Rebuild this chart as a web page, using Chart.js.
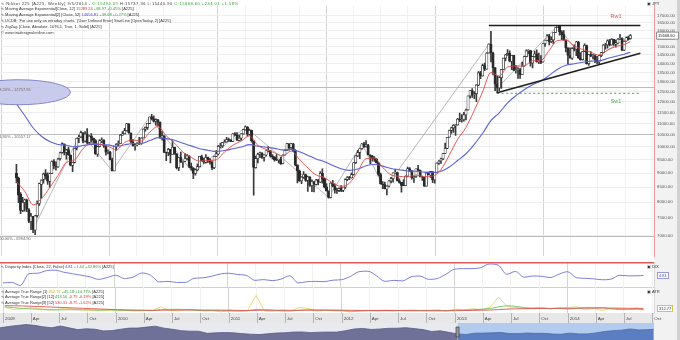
<!DOCTYPE html>
<html>
<head>
<meta charset="utf-8">
<title>Nikkei 225 weekly</title>
<script src="https://cdn.jsdelivr.net/npm/chart.js@4.4.1/dist/chart.umd.min.js"></script>
<style>
  html, body { margin: 0; padding: 0; background: #fff; }
  #wrap { position: relative; width: 680px; height: 340px; overflow: hidden; background: #fff; }
  #wrap canvas { position: absolute; left: 0; }
  .axisCol { position: absolute; left: 654px; top: 0; width: 26px; height: 340px; background: #f2f2f2; }
  .edge { position: absolute; left: 677px; top: 0; width: 3px; height: 340px; background: #d2d2d2; }
  .txt { position: absolute; white-space: nowrap; font-family: "Liberation Sans", Arial, sans-serif; font-size: 4px; line-height: 5.9px; color: #333; }
  .wide { letter-spacing: 0.52px; }
  .g { color: #2c9a2c; } .r { color: #e03030; } .b { color: #3c46c8; } .y { color: #c8a800; }
  .box { position: absolute; border: 1px solid #9a9ad8; background: #fff; font-family: "Liberation Sans", Arial, sans-serif; font-size: 4px; line-height: 5px; padding: 0 1px; }
</style>
</head>
<body>
<div id="wrap">
  <div class="axisCol"></div>
  <div class="edge"></div>
  <canvas id="main" width="680" height="262" style="top:0"></canvas>
  <canvas id="dix" width="680" height="25" style="top:262px"></canvas>
  <canvas id="atr" width="680" height="36" style="top:287px"></canvas>
  <canvas id="nav" width="680" height="17" style="top:323px"></canvas>

  <div class="txt" style="left:1px; top:0.5px">
    <div class="wide">∿ Nikkei 225 [A225, Weekly] 9/5/2014 - <span class="g">O:15494.09</span> H:15737.36 L:15440.90 <span class="g">C:15668.60 +244.01 +1.58%</span></div>
    <div>∿ Moving Average Exponential[Close, 12] <span class="r">15289.24</span> <span class="g">+68.97 +0.45%</span> [A225]</div>
    <div>∿ Moving Average Exponential[2] [Close, 52] <span class="b">14656.81</span> <span class="g">+39.68 +0.27%</span> [A225]</div>
    <div>∿ UCDB: 'For use only on intraday charts.' [User Defined Error] StartLine [OpenToday, 2] [A225]</div>
    <div>∿ ZigZag [Close, Absolute, 1076.1, True, 1, Solid] [A225]</div>
    <div>© www.tradesignalonline.com</div>
  </div>
  <div class="txt" style="left:647px; top:0.5px">▣ JPY</div>

  <div class="txt" style="left:1px; top:263.5px">∿ Disparity Index [Close, 22, False] <span class="b">4.81</span> <span class="g">+1.44 +42.86%</span> [A225]</div>
  <div class="txt" style="left:647px; top:263.5px">▣ DIX</div>
  <div class="box" style="left:657px; top:272px; color:#3c46c8">4.81</div>

  <div class="txt" style="left:1px; top:288.5px; line-height:5.6px">
    <div>∿ Average True Range [1] <span class="y">312.77</span> <span class="g">+45.18 +14.77%</span> [A225]</div>
    <div>∿ Average True Range[2] [12] <span class="g">413.50</span> <span class="r">-0.79 -0.19%</span> [A225]</div>
    <div>∿ Average True Range[3] [52] <span class="r">530.31</span> <span class="r">-8.75 -1.62%</span> [A225]</div>
  </div>
  <div class="txt" style="left:647px; top:288.5px">▣ ATR</div>
  <div class="box" style="left:657px; top:305px; border-color:#c9c84a; color:#333">312.77</div>
</div>

<script>
// weekly candles, index 0 = week ending 9 Jan 2009, last = week ending 5 Sep 2014
const weekOpen = [
  8992,8810,8260,7740,7990,8060,7760,7400,7560,7150,7580,7960,8600,8770,8980,8900,8700,8990,9440,9260,9230,9540,9780,10120,9780,9890,9670,9280,9400,9960,10360,10420,10590,10240,10540,10190,10450,10360,10260,9720,10020,10260,10270,10030,9800,9800,9500,9080,10020,10110,10140,10500,
  10550,10680,10980,10580,10200,10050,10090,10130,10130,10370,10750,10820,11000,11290,11200,11100,11160,11050,10360,10460,9780,9770,9900,9700,9990,9730,9200,9580,9400,9440,9540,9640,9250,9170,8990,9120,9240,9620,9470,9400,9590,9500,9420,9200,9630,9720,10020,10040,10180,10210,10300,10280,
  10230,10540,10500,10270,10360,10540,10720,10840,10520,10690,10250,9200,9540,9710,9760,9590,9680,9850,9860,9650,9600,9500,9490,9510,9350,9680,9870,10130,9970,10130,9830,9300,9080,8720,8850,8950,8740,8860,8560,8700,8600,8750,8680,8990,8800,8510,8370,8160,8640,8530,8400,8390,
  8460,8390,8500,8770,8840,8830,8950,9390,9650,9780,9930,10130,10010,10080,9690,9640,9560,9520,9380,8950,8610,8590,8440,8540,8720,8800,9010,9020,8720,8670,8570,8560,8890,9160,9070,8840,8870,9160,9110,8870,8860,8540,9000,8930,9050,8760,9020,9370,9450,9530,9740,9940,
  10400,10690,10800,10910,10930,11190,11150,11170,11380,11610,12290,12560,12340,12400,12830,13480,13320,13880,13690,14610,15140,14610,13770,12880,12690,13230,13680,14310,14510,14590,14130,14470,13620,13650,13660,13390,13860,14400,14740,14760,14020,14400,14560,14090,14200,14090,15170,15380,15660,15300,15400,15870,
  16180,16290,15910,15730,15390,14910,14460,14310,14860,14840,15270,14330,14220,14700,15060,14000,14520,14430,14460,14200,14100,14460,14630,15080,15100,15350,15100,15440,15160,15210,15460,15520,14780,15320,15540,15494
];
const weekHigh = [
  9325,8860,8320,8160,8100,8100,7800,7650,7560,7590,8050,8640,8760,9000,9130,9010,9000,9460,9500,9420,9560,9800,10170,10130,9900,10000,9690,9400,9950,10360,10480,10660,10600,10640,10770,10470,10550,10370,10300,10040,10300,10380,10300,10060,9880,9830,9560,10030,10140,10250,10520,10640,
  10780,11000,10990,10590,10300,10100,10180,10400,10380,10760,10850,11000,11290,11410,11340,11200,11180,11070,10640,10470,9800,9950,9900,10250,10000,9740,9600,9800,9450,9740,9700,9660,9370,9200,9160,9340,9630,9680,9560,9700,9600,9540,9430,9640,9860,10070,10160,10190,10290,10400,10370,10300,
  10550,10600,10600,10490,10550,10730,10890,10860,10750,10700,10250,9640,9760,9800,9780,9700,9860,10020,9870,9700,9620,9700,9520,9590,9690,9880,10140,10140,10150,10150,9890,9300,9110,8870,9050,8960,8890,8870,8760,8700,8780,8780,9050,9160,8820,8630,8380,8660,8740,8620,8470,8480,
  8560,8500,8790,8870,8880,9010,9390,9660,9870,9930,10140,10190,10260,10110,9690,9670,9620,9540,9380,9000,8700,8680,8550,8730,8850,9010,9140,9030,8790,8670,8770,8900,9220,9200,9100,8880,9160,9290,9110,8890,8860,9030,9040,9060,9050,9030,9380,9470,9560,9740,10160,10400,
  10700,10830,10950,10940,11230,11460,11400,11500,11650,12290,12570,12650,12510,12860,13550,13570,13970,14030,14640,15160,15940,14670,13770,13320,13280,13680,14320,14520,14810,14740,14470,14470,13900,13780,13730,14080,14430,14800,14820,14770,14410,14730,14800,14600,14460,15170,15390,15730,15750,15600,15870,16180,
  16320,16320,16000,16000,15400,14940,14920,14930,15100,15310,15310,14630,14700,15160,15090,14520,14690,14530,14500,14420,14490,14650,15110,15190,15410,15440,15490,15440,15390,15480,15760,15530,15340,15600,15640,15737
];
const weekLow = [
  8650,7990,7640,7700,7720,7700,7370,7160,7080,7020,7530,7900,8140,8640,8780,8600,8490,8980,9150,9110,9210,9480,9750,9680,9520,9660,9260,9050,9380,9880,10170,10380,10160,10200,10130,10100,10200,10130,9700,9630,10000,10170,9980,9670,9720,9490,9080,9080,9860,10050,10130,10480,
  10540,10660,10560,10190,10030,9870,10040,10100,10100,10370,10660,10730,10990,11150,11060,10920,10900,10360,10280,9770,9460,9650,9380,9700,9700,9150,9090,9400,9210,9420,9490,9200,9110,8800,8920,9080,9230,9450,9360,9370,9390,9330,9120,9160,9620,9680,9960,9980,10160,10200,10230,10220,
  10220,10470,10270,10250,10270,10530,10700,10450,10490,10200,8230,9180,9380,9580,9550,9440,9640,9800,9600,9530,9440,9460,9380,9320,9340,9670,9860,9870,9940,9820,9260,8650,8700,8620,8810,8700,8360,8530,8350,8340,8580,8580,8670,8640,8480,8370,8130,8140,8510,8300,8290,8350,
  8350,8350,8460,8730,8760,8820,8920,9350,9620,9540,9900,9980,9990,9680,9350,9440,9430,9370,8900,8610,8450,8440,8240,8510,8650,8680,8990,8720,8640,8330,8550,8550,8880,9050,8780,8670,8840,9080,8860,8740,8530,8540,8930,8840,8660,8640,9020,9320,9360,9500,9740,9930,
  10400,10560,10600,10480,10920,11070,11050,11100,11150,11600,12170,12210,12150,12000,12810,13170,13310,13600,13690,14600,14100,13370,12550,12420,12550,12670,13680,14150,14470,14100,13660,13600,13470,13190,13190,13390,13860,14400,14550,13850,13750,14370,14080,14000,14000,14080,15000,15370,15100,15230,15150,15870,
  16180,15700,15420,15390,14680,13990,14310,14230,14730,14460,14300,14200,14200,14690,13960,13890,14400,14280,14050,14000,13960,14400,14630,14830,14890,15030,15080,15060,14960,15150,15420,14750,14750,15320,15380,15441
];
const weekClose = [
  8836,8230,7745,7994,8076,7779,7416,7568,7173,7569,7945,8627,8749,8964,8907,8707,8977,9432,9265,9225,9523,9768,10135,9786,9877,9680,9288,9395,9944,10357,10412,10597,10238,10534,10187,10444,10370,10265,9731,10016,10257,10282,10035,9789,9804,9497,9081,10022,10107,10142,10494,10546,
  10682,10982,10590,10198,10057,10092,10123,10126,10368,10751,10824,10996,11286,11204,11102,11165,11057,10364,10462,9784,9762,9901,9705,9995,9737,9203,9585,9408,9431,9537,9642,9253,9179,8991,9114,9239,9626,9471,9404,9588,9500,9426,9202,9625,9724,10022,10039,10178,10211,10303,10279,10228,
  10541,10499,10274,10360,10543,10725,10842,10526,10693,10254,9206,9536,9708,9768,9591,9682,9849,9859,9648,9607,9504,9492,9514,9351,9678,9868,10137,9974,10132,9833,9300,9086,8719,8851,8950,8737,8864,8560,8700,8605,8748,8678,8988,8801,8514,8375,8160,8643,8536,8401,8395,8455,
  8390,8500,8766,8841,8831,8947,9384,9647,9777,9929,10129,10011,10083,9688,9637,9561,9520,9380,8953,8611,8593,8440,8536,8721,8798,9006,9020,8724,8669,8566,8555,8891,9162,9070,8839,8871,9159,9110,8870,8863,8534,9002,8933,9051,8757,9024,9367,9446,9527,9737,9940,10395,
  10688,10801,10913,10926,11191,11153,11173,11385,11606,12283,12560,12338,12397,12833,13485,13316,13884,13694,14607,15138,14612,13774,12877,12686,13230,13677,14309,14506,14589,14129,14466,13615,13650,13660,13389,13860,14404,14742,14760,14024,14404,14561,14088,14201,14086,15165,15381,15661,15299,15403,15870,16178,
  16291,15912,15734,15391,14915,14462,14313,14866,14841,15274,14327,14224,14696,15063,14000,14516,14429,14458,14199,14097,14462,14632,15077,15097,15349,15095,15437,15164,15215,15457,15523,14778,15318,15539,15425,15668.6
];

// indicators read every 4th week (last one = final week)
const ema12 = [8700,8363,7918,8109,8488,8916,9391,9492,9931,10150,10114,10031,9887,10186,10286,10242,10611,10860,10461,10153,9794,9589,9441,9468,9495,9803,10071,10243,10460,10067,9903,9770,9647,9839,9508,9187,8932,8833,8646,8531,8641,9058,9538,9563,9206,8936,8883,8861,8926,8868,8894,9128,9679,10313,10824,11590,12492,13507,13313,13808,13861,13874,14153,14179,14768,15367,15391,15033,14821,14653,14483,14775,14997,15118,15289];
const ema52 = [11900,11351,10805,10441,10222,10101,10072,10002,10059,10105,10100,10083,10025,10087,10139,10144,10260,10383,10342,10271,10149,10044,9931,9869,9816,9858,9926,9995,10094,10035,9991,9943,9882,9903,9809,9674,9530,9419,9279,9157,9098,9146,9271,9318,9257,9168,9124,9078,9065,9034,9020,9065,9224,9468,9730,10106,10568,11124,11480,11950,12300,12600,12850,13050,13350,13680,13900,13990,14074,14135,14159,14284,14417,14537,14657];
const disparity = [-10,-9,-15,8,9,14,15,11,8,5,2,-3,0.5,5,-1.5,1.5,9.5,5,-8,-7,-9,-9,-1,0,3,7.5,9,6.5,5,-5,-3.5,-5.5,-2.7,4,-10,-7.7,-7,-7.5,-4.6,-3.6,2.7,12,13,4,-7,-5,-6,2,3.5,-3,-1.4,7,17,18,18,20,27,25,7,12.6,1,3.6,3,0.6,7,12,0.4,-1,-2,-3.8,-2.6,5,3.9,3.9,4.8];
const atr1 = [675,400,500,620,510,350,380,570,440,350,300,340,280,240,270,280,300,280,700,300,240,400,400,210,240,130,330,200,260,2020,220,180,350,210,650,530,200,340,230,210,120,250,270,190,250,200,340,340,320,330,390,200,470,310,500,360,660,1840,730,640,530,570,660,460,650,620,720,370,500,290,530,520,430,590,313];
const atr12 = [700,620,520,480,430,380,360,380,370,360,360,320,380,330,300,260,280,270,380,420,430,380,320,280,290,250,230,230,250,410,380,320,230,240,320,370,350,330,330,280,200,230,270,290,320,310,260,260,270,260,250,260,330,350,380,440,520,700,830,760,620,560,560,500,520,460,520,620,600,620,460,400,400,420,413.5];
const atr52 = [850,840,810,780,740,700,660,620,580,540,500,460,420,390,360,340,320,310,320,330,340,345,345,340,335,330,320,300,290,310,320,320,315,310,310,320,320,320,320,320,310,300,295,290,285,280,275,270,265,262,262,262,270,285,300,320,345,390,450,480,500,510,520,530,540,545,550,560,570,575,565,555,545,540,530];

// zigzag pivots (week index, close)
const zigWeeks = [8,31,46,64,85,110,150,166,177,227,231,260,274,295];
const zigValues = [7173,10597,9081,11286,8991,10842,8160,10129,8440,15138,12686,16291,14000,15668.6];

// drawings
const fibLevels = [12757.95, 10557.17, 6994.90];
const fibNames = ['38.20%', '61.80%', '100.00%'];
const resistanceLevel = 16320, resistanceStart = 227;
const supportLevel = 12415, supportStart = 231;
const trendWeeks = [231, 299.8];
const trendValues = [12445, 14590];
const priceTicks = [7000,7500,8000,8500,9000,9500,10000,10500,11000,11500,12000,12500,13000,13500,14000,14500,15000,15500,16000,16500,17000];

// navigator: quarter-end closes from Q3 1995
const navValues = [17913,19868,21406,22666,21556,19361,18003,20605,17888,15258,16527,15830,13406,13842,15836,17529,17605,18934,20337,17411,15747,13785,12999,12969,9774,10542,11024,10621,9383,8578,7972,9083,10219,10676,11715,11858,10823,11488,11668,11584,13574,16111,17059,15505,16127,17225,17287,18138,16785,15307,12525,13481,11259,8859,8109,9958,10133,10546,11089,9382,9369,10228,9755,9816,8700,8455,10083,9006,8870,10395,12397,13677,14455,16291,14827,15162,15669];

const FONT = '"Liberation Sans", Arial, sans-serif';
const X_MIN = -1.34, X_MAX = 299.8;
const lastWeek = weekClose.length - 1;
const sampleWeek = k => Math.min(k * 4, lastWeek);
const navYear = k => Math.min(1995.75 + 0.25 * k, 2014.68);
const NAV_SPLIT = 2009.0;

const weekOf = (y, m, d) => (Date.UTC(y, m, d) - Date.UTC(2009, 0, 7)) / (7 * 864e5);
const monthNames = ['', '', '', 'Apr', '', '', 'Jul', '', '', 'Oct'];
const quarterTicks = [];
for (let yr = 2009; yr <= 2014; yr++) {
  for (let m = 0; m < 12; m += 3) {
    const v = weekOf(yr, m, 1);
    if (v >= X_MIN && v <= X_MAX) quarterTicks.push({ value: v, label: m === 0 ? String(yr) : monthNames[m], year: m === 0 });
  }
}

function weekAxis(showLabels) {
  return {
    type: 'linear', min: X_MIN, max: X_MAX,
    afterBuildTicks: s => { s.ticks = quarterTicks.map(t => ({ value: t.value })); },
    afterFit: s => { s.height = showLabels ? 10 : 0; },
    ticks: {
      display: showLabels, autoSkip: false, maxRotation: 0, align: 'start', padding: 3, labelOffset: 2,
      font: { size: 4.4, family: FONT }, color: '#444',
      callback: (v, i) => quarterTicks[i] ? quarterTicks[i].label : ''
    },
    grid: { drawTicks: false, color: c => (quarterTicks[c.index] && quarterTicks[c.index].year) ? '#d4d4d4' : '#f2f2f2' },
    border: { display: false }
  };
}

function hiddenRight(min, max) {
  return {
    position: 'right', min: min, max: max,
    afterFit: s => { s.width = 26; },
    ticks: { display: false }, grid: { display: false },
    border: { color: '#d6d6d6' }
  };
}

const common = {
  responsive: false, animation: false, devicePixelRatio: 1,
  layout: { padding: 0 },
  plugins: { legend: { display: false }, tooltip: { enabled: false } }
};

const mainOverlay = {
  id: 'mainOverlay',
  beforeDatasetsDraw(chart) {
    const { ctx, chartArea: a, scales: { y } } = chart;
    ctx.save();
    ctx.strokeStyle = '#bcbcbc';
    ctx.lineWidth = 1;
    fibLevels.forEach(lv => {
      const py = Math.round(y.getPixelForValue(lv)) + 0.5;
      ctx.beginPath(); ctx.moveTo(a.left, py); ctx.lineTo(a.right, py); ctx.stroke();
    });
    ctx.restore();
  },
  afterDatasetsDraw(chart) {
    const { ctx, chartArea: a, scales: { x, y } } = chart;
    ctx.save();
    // ellipse drawn round the 38.2% label
    ctx.beginPath();
    ctx.ellipse(x.getPixelForValue(1), y.getPixelForValue(12470), 52, 12.5, 0, 0, Math.PI * 2);
    ctx.fillStyle = 'rgba(198,200,236,0.95)';
    ctx.fill();
    ctx.strokeStyle = '#8288c9';
    ctx.lineWidth = 1;
    ctx.stroke();

    ctx.font = '4px ' + FONT;
    ctx.fillStyle = '#666';
    ctx.textBaseline = 'top';
    fibLevels.forEach((lv, k) => ctx.fillText(fibNames[k] + ' - ' + lv.toFixed(2), a.left - 3, y.getPixelForValue(lv) + 1.5));

    ctx.font = '5.5px ' + FONT;
    ctx.textBaseline = 'middle';
    ctx.fillStyle = '#e05555';
    ctx.fillText('Rw1', x.getPixelForValue(285.5), y.getPixelForValue(resistanceLevel) - 9);
    ctx.fillStyle = '#4cb04c';
    ctx.fillText('Sw1', x.getPixelForValue(285.5), y.getPixelForValue(supportLevel) + 8.5);
    ctx.restore();
  },
  afterDraw(chart) {
    const { ctx, chartArea: a, scales: { y } } = chart;
    const last = weekClose[lastWeek];
    const py = y.getPixelForValue(last);
    ctx.save();
    ctx.fillStyle = '#fff';
    ctx.strokeStyle = '#777';
    ctx.lineWidth = 0.8;
    ctx.beginPath(); ctx.rect(a.right + 2.5, py - 3.5, 22, 7); ctx.fill(); ctx.stroke();
    ctx.fillStyle = '#222';
    ctx.font = '4px ' + FONT;
    ctx.textBaseline = 'middle';
    ctx.fillText(last.toFixed(2), a.right + 4, py + 0.3);
    ctx.restore();
  }
};

new Chart(document.getElementById('main'), {
  type: 'bar',
  data: {
    datasets: [
      { type: 'line', label: 'ZigZag', data: zigWeeks.map((w, k) => ({ x: w, y: zigValues[k] })), borderColor: '#a4a4a4', borderWidth: 0.8, pointRadius: 0, order: 7 },
      { label: 'wick', data: weekClose.map((c, i) => ({ x: i, y: [weekLow[i], weekHigh[i]] })), backgroundColor: '#3a3a3a', barThickness: 1, grouped: false, order: 6 },
      { label: 'body', data: weekClose.map((c, i) => ({ x: i, y: [weekOpen[i], c] })),
        backgroundColor: weekClose.map((c, i) => c >= weekOpen[i] ? '#ffffff' : '#2a2a2a'),
        borderColor: '#2a2a2a', borderWidth: 0.7, borderSkipped: false, barThickness: 2.4, grouped: false, order: 5 },
      { type: 'line', label: 'EMA52', data: ema52.map((v, k) => ({ x: sampleWeek(k), y: v })), borderColor: '#5b62d9', borderWidth: 1.1, pointRadius: 0, cubicInterpolationMode: 'monotone', order: 4 },
      { type: 'line', label: 'EMA12', data: ema12.map((v, k) => ({ x: sampleWeek(k), y: v })), borderColor: '#e04848', borderWidth: 0.9, pointRadius: 0, cubicInterpolationMode: 'monotone', order: 3 },
      { type: 'line', label: 'Sw1', data: [{ x: supportStart, y: supportLevel }, { x: X_MAX, y: supportLevel }], borderColor: '#5cbf5c', borderWidth: 1.3, borderDash: [2, 2.5], pointRadius: 0, order: 2 },
      { type: 'line', label: 'Rw1', data: [{ x: resistanceStart, y: resistanceLevel }, { x: X_MAX, y: resistanceLevel }], borderColor: '#1e1e1e', borderWidth: 1.6, pointRadius: 0, order: 1 },
      { type: 'line', label: 'Trend', data: trendWeeks.map((w, k) => ({ x: w, y: trendValues[k] })), borderColor: '#1e1e1e', borderWidth: 1.6, pointRadius: 0, order: 1 }
    ]
  },
  options: Object.assign({}, common, {
    scales: {
      x: weekAxis(false),
      y: {
        type: 'logarithmic', position: 'right', min: 6430, max: 17690,
        afterBuildTicks: s => { s.ticks = priceTicks.map(v => ({ value: v })); },
        afterFit: s => { s.width = 26; },
        ticks: { font: { size: 4.3, family: FONT }, color: '#555', padding: 3, callback: v => Number(v).toFixed(2) },
        grid: { color: '#eeeeee', drawTicks: false },
        border: { color: '#eb9a9a' }
      }
    }
  }),
  plugins: [mainOverlay]
});

const dixFrame = {
  id: 'dixFrame',
  afterDraw(chart) {
    const { ctx, chartArea: a } = chart;
    ctx.save();
    ctx.strokeStyle = '#e05a5a';
    ctx.lineWidth = 1.5;
    ctx.beginPath(); ctx.moveTo(0, 0.75); ctx.lineTo(a.right, 0.75); ctx.stroke();
    ctx.restore();
  }
};

new Chart(document.getElementById('dix'), {
  type: 'line',
  data: { datasets: [{ data: disparity.map((v, k) => ({ x: sampleWeek(k), y: v })), borderColor: '#6e72d6', borderWidth: 0.9, pointRadius: 0, cubicInterpolationMode: 'monotone' }] },
  options: Object.assign({}, common, { scales: { x: weekAxis(false), y: hiddenRight(-18, 31) } }),
  plugins: [dixFrame]
});

const atrBand = {
  id: 'atrBand',
  beforeDraw(chart) {
    const { ctx, chartArea: a } = chart;
    ctx.save();
    ctx.fillStyle = '#e8e8e8';
    ctx.fillRect(0, a.bottom, a.right, chart.height - a.bottom);
    ctx.strokeStyle = '#d0d0d0';
    ctx.lineWidth = 1;
    ctx.beginPath(); ctx.moveTo(0, a.top + 0.5); ctx.lineTo(a.right, a.top + 0.5); ctx.stroke();
    ctx.restore();
  },
  afterDraw(chart) {
    const { ctx, chartArea: a, scales: { x } } = chart;
    ctx.save();
    ctx.strokeStyle = '#b4b4b4';
    ctx.lineWidth = 1;
    quarterTicks.forEach(t => {
      const px = Math.round(x.getPixelForValue(t.value)) + 0.5;
      ctx.beginPath(); ctx.moveTo(px, a.bottom); ctx.lineTo(px, chart.height); ctx.stroke();
    });
    ctx.restore();
  }
};

new Chart(document.getElementById('atr'), {
  type: 'line',
  data: {
    datasets: [
      { data: atr52.map((v, k) => ({ x: sampleWeek(k), y: v })), borderColor: '#e05050', borderWidth: 0.9, pointRadius: 0, cubicInterpolationMode: 'monotone' },
      { data: atr12.map((v, k) => ({ x: sampleWeek(k), y: v })), borderColor: '#6cc36c', borderWidth: 0.9, pointRadius: 0, cubicInterpolationMode: 'monotone' },
      { data: atr1.map((v, k) => ({ x: sampleWeek(k), y: v })), borderColor: '#e8d24a', borderWidth: 0.8, pointRadius: 0 }
    ]
  },
  options: Object.assign({}, common, { scales: { x: weekAxis(true), y: hiddenRight(0, 3000) } }),
  plugins: [atrBand]
});

const navBg = {
  id: 'navBg',
  beforeDatasetsDraw(chart) {
    const { ctx, chartArea: a, scales: { x } } = chart;
    const sx = x.getPixelForValue(NAV_SPLIT);
    ctx.save();
    ctx.fillStyle = '#e9eaf0';
    ctx.fillRect(a.left, a.top, sx - a.left, a.bottom - a.top);
    ctx.fillStyle = '#b3cbee';
    ctx.fillRect(sx, a.top, a.right - sx, a.bottom - a.top);
    ctx.restore();
  },
  afterDatasetsDraw(chart) {
    const { ctx, chartArea: a, scales: { x } } = chart;
    const sx = x.getPixelForValue(NAV_SPLIT);
    ctx.save();
    ctx.fillStyle = '#9a9aa8';
    ctx.strokeStyle = '#444';
    ctx.lineWidth = 0.8;
    ctx.beginPath(); ctx.rect(sx - 1.5, a.top + 4, 3, 10); ctx.fill(); ctx.stroke();
    ctx.restore();
  }
};

const navPoints = navValues.map((v, k) => ({ x: navYear(k), y: v }));
new Chart(document.getElementById('nav'), {
  type: 'line',
  data: {
    datasets: [
      { data: navPoints.filter(p => p.x <= NAV_SPLIT), fill: 'origin', backgroundColor: '#6f7198', borderColor: '#5a5c84', borderWidth: 0.8, pointRadius: 0 },
      { data: navPoints.filter(p => p.x >= NAV_SPLIT), fill: 'origin', backgroundColor: '#5b7dc1', borderColor: '#4a69a8', borderWidth: 0.8, pointRadius: 0 }
    ]
  },
  options: Object.assign({}, common, {
    scales: {
      x: { type: 'linear', min: 1995.75, max: 2014.69, display: false },
      y: { position: 'right', min: 0, max: 25000, afterFit: s => { s.width = 26; }, ticks: { display: false }, grid: { display: false }, border: { display: false } }
    }
  }),
  plugins: [navBg]
});
</script>
</body>
</html>
